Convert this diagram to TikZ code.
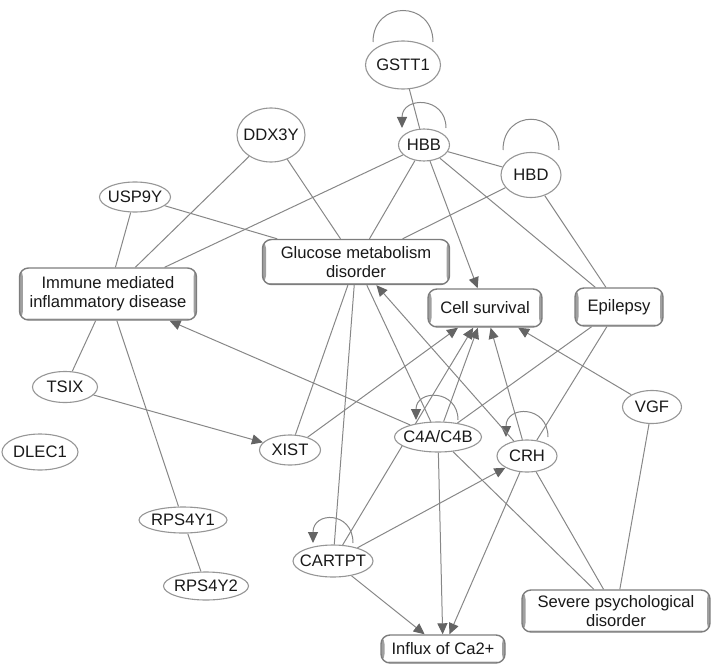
\documentclass[tikz,border=0pt]{standalone}
\usepackage{fontspec}
\setmainfont{Liberation Sans}
\usetikzlibrary{arrows.meta,shapes.geometric,backgrounds}
\definecolor{edgec}{RGB}{135,135,135}
\definecolor{tipc}{RGB}{100,100,100}
\definecolor{nodec}{RGB}{150,150,150}
\definecolor{boxc}{RGB}{125,125,125}
\definecolor{sidec}{RGB}{160,160,160}
\newcommand{\nodefont}{\fontsize{16.6bp}{19bp}\selectfont}
\begin{document}
\begin{tikzpicture}[x=1bp,y=-1bp,
  gene/.style={ellipse, draw=nodec, line width=1.1bp, fill=white, inner sep=0pt, font=\nodefont, text=black!90},
  fn/.style={rectangle, rounded corners=9bp, draw=boxc, line width=1.4bp, fill=white, inner sep=0pt, align=center, font=\nodefont, text=black!90,
    path picture={
      \fill[sidec] (path picture bounding box.south west) rectangle ([xshift=3.5bp]path picture bounding box.north west);
      \fill[sidec] (path picture bounding box.south east) rectangle ([xshift=-3bp]path picture bounding box.north east);
      \fill[sidec] (path picture bounding box.south west) rectangle ([yshift=1.5bp]path picture bounding box.south east);
    }},
  link/.style={draw=edgec, line width=1bp},
  arr/.style={link, -{Triangle[length=11bp,width=10bp,color=tipc]}},
]
\useasboundingbox (0,0) rectangle (712,668);

% genes
\node[gene, minimum width=75bp, minimum height=48bp] (gstt1) at (403,65) {\makebox[0pt]{GSTT1}};
\node[gene, minimum width=51bp, minimum height=32bp] (hbb) at (424,145) {\makebox[0pt]{HBB}};
\node[gene, minimum width=60bp, minimum height=45bp] (hbd) at (531,175) {\makebox[0pt]{HBD}};
\node[gene, minimum width=68bp, minimum height=54bp] (ddx) at (271,135) {\makebox[0pt]{DDX3Y}};
\node[gene, minimum width=71bp, minimum height=30bp] (usp) at (135,197) {\makebox[0pt]{USP9Y}};
\node[gene, minimum width=59bp, minimum height=33bp] (vgf) at (652,407) {\makebox[0pt]{VGF}};
\node[gene, minimum width=60bp, minimum height=32bp] (crh) at (527,456) {\makebox[0pt]{CRH}};
\node[gene, minimum width=87bp, minimum height=30bp] (c4a) at (438,437) {\makebox[0pt]{C4A/C4B}};
\node[gene, minimum width=61bp, minimum height=30bp] (xist) at (290,450) {\makebox[0pt]{XIST}};
\node[gene, minimum width=65bp, minimum height=31bp] (tsix) at (65,387) {\makebox[0pt]{TSIX}};
\node[gene, minimum width=76bp, minimum height=36bp] (dlec) at (40,452) {\makebox[0pt]{DLEC1}};
\node[gene, minimum width=88bp, minimum height=26bp] (rps1) at (183,520) {\makebox[0pt]{RPS4Y1}};
\node[gene, minimum width=85bp, minimum height=28bp] (rps2) at (206,586) {\makebox[0pt]{RPS4Y2}};
\node[gene, minimum width=80bp, minimum height=32bp] (cart) at (333,561) {\makebox[0pt]{CARTPT}};

% functions
\node[fn, minimum width=177bp, minimum height=52bp] (imm) at (108,294) {Immune mediated\\inflammatory disease};
\node[fn, minimum width=187bp, minimum height=45bp] (glu) at (356,262) {Glucose metabolism\\disorder};
\node[fn, minimum width=114bp, minimum height=38bp] (cell) at (485,308) {Cell survival};
\node[fn, minimum width=88bp, minimum height=38bp] (epi) at (619,307) {Epilepsy};
\node[fn, minimum width=124bp, minimum height=28bp] (ca) at (443,649) {Influx of Ca2+};
\node[fn, minimum width=188bp, minimum height=42bp] (sev) at (616,611) {Severe psychological\\disorder};

\begin{scope}[on background layer]
% self loops
\draw[link] (gstt1.center) ++(-30,-23) .. controls +(0,-42) and +(0,-42) .. ++(60,0);
\draw[link] (hbd.center) ++(-28,-25) .. controls +(0,-41) and +(0,-41) .. ++(56,0);
\draw[arr] (hbb.center) ++(22,-17) .. controls +(0,-32) and +(0,-32) .. ++(-44,0);
\draw[arr] (c4a.center) ++(20,-17) .. controls +(0,-31) and +(0,-31) .. ++(-42,0);
\draw[arr] (crh.center) ++(21,-19) .. controls +(0,-32) and +(0,-32) .. ++(-42,0);
\draw[arr] (cart.center) ++(20,-18) .. controls +(0,-32) and +(0,-32) .. ++(-40,0);

% plain links
\draw[link] (gstt1) -- (hbb);
\draw[link] (hbb) -- (hbd);
\draw[link] (hbb) -- (imm);
\draw[link] (hbb) -- (glu);
\draw[link] (hbb) -- (epi);
\draw[link] (hbd) -- (glu);
\draw[link] (hbd) -- (epi);
\draw[link] (ddx) -- (imm);
\draw[link] (ddx) -- (glu);
\draw[link] (usp) -- (imm);
\draw[link] (usp) -- (glu);
\draw[link] (imm) -- (tsix);
\draw[link] (imm) -- (rps1);
\draw[link] (rps1) -- (rps2);
\draw[link] (xist) -- (glu);
\draw[link] (glu) -- (cart);
\draw[link] (glu) -- (c4a);
\draw[link] (epi) -- (c4a);
\draw[link] (epi) -- (crh);
\draw[link] (vgf) -- (sev);
\draw[link] (c4a) -- (sev);
\draw[link] (crh) -- (sev);

% arrows
\draw[arr] (hbb) -- (cell);
\draw[arr] (c4a) -- (imm);
\draw[arr] (tsix) -- (xist);
\draw[arr] (xist) -- (cell);
\draw[arr] (crh) -- (glu);
\draw[arr] (c4a) -- (cell);
\draw[arr] (cart) -- (cell);
\draw[arr] (crh) -- (cell);
\draw[arr] (vgf) -- (cell);
\draw[arr] (c4a) -- (ca);
\draw[arr] (crh) -- (ca);
\draw[arr] (cart) -- (ca);
\draw[arr] (cart) -- (crh);
\end{scope}
\end{tikzpicture}
\end{document}
